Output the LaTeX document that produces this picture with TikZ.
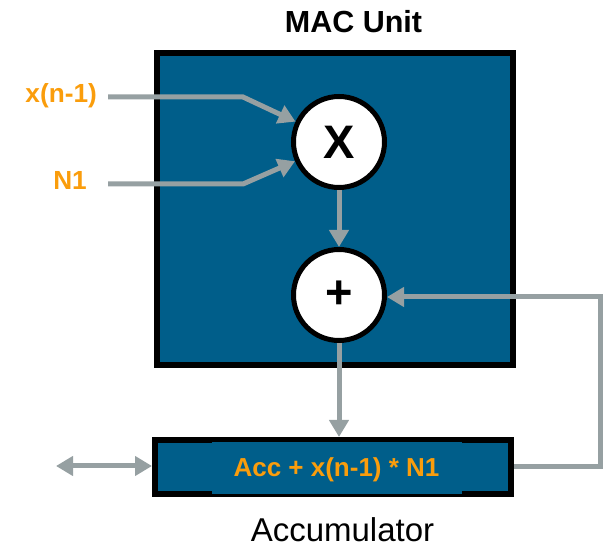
\documentclass[tikz,border=0pt]{standalone}
\usepackage{fontspec}
\setmainfont{Liberation Sans}
\usetikzlibrary{arrows.meta}
\definecolor{macblue}{RGB}{0,94,138}
\definecolor{accorange}{RGB}{250,157,12}
\definecolor{wiregray}{RGB}{150,160,162}
\tikzset{
  unitbox/.style={draw=black, line width=6pt, fill=macblue},
  opcircle/.style={circle, draw=black, line width=5pt, fill=white, minimum size=91pt, inner sep=0pt, font=\bfseries\fontsize{47}{47}\selectfont},
  wire/.style={draw=wiregray, line width=5pt, -{Triangle[length=17pt,width=19pt]}},
  plainwire/.style={draw=wiregray, line width=5pt},
  inlabel/.style={text=accorange, font=\bfseries\fontsize{26.2}{26.2}\selectfont, inner sep=0pt},
}
\begin{document}
\begin{tikzpicture}[x=1pt,y=-1pt]
\useasboundingbox (0,0) rectangle (606,548);
% MAC unit box
\draw[unitbox] (157,53) rectangle (513,365);
\node[font=\bfseries\fontsize{30.5}{30.5}\selectfont, anchor=base, inner sep=0pt] (title) at (353.5,33) {MAC Unit};
% accumulator box
\draw[unitbox] (155,440) rectangle (511,494);
\node[fill=macblue, minimum width=250pt, minimum height=52pt, inner sep=0pt] (accbg) at (337,468) {};
\node[inlabel, font=\bfseries\fontsize{26}{26}\selectfont, anchor=base] (acctext) at (336.5,477) {Acc + x(n-1) * N1};
\node[font=\fontsize{33}{33}\selectfont, anchor=base, inner sep=0pt] (acclabel) at (342.5,541) {Accumulator};
% operators
\node[opcircle] (mul) at (339,142) {X};
\node[opcircle] (add) at (339,295) {+};
% inputs
\node[inlabel, anchor=base east] (xin) at (97,103) {x(n-1)};
\node[inlabel, anchor=base east] (nin) at (87,190) {N1};
\coordinate (xstart) at (108,97);
\coordinate (xbend) at (243,97);
\coordinate (nstart) at (108,184);
\coordinate (nbend) at (243,184);
\draw[wire] (xstart) -- (xbend) -- (mul);
\draw[wire] (nstart) -- (nbend) -- (mul);
% internal
\coordinate (accin) at (339,437);
\draw[wire] (mul.south) -- (add.north);
\draw[wire] (add.south) -- (accin);
% feedback
\coordinate (accout) at (514,467);
\coordinate (fbcorner1) at (600,467);
\coordinate (fbcorner2) at (600,297);
\draw[wire] (accout) -- (fbcorner1) -- (fbcorner2) -- (add.east |- fbcorner2);
% bidirectional
\coordinate (bileft) at (56,466);
\coordinate (biright) at (152,466);
\draw[plainwire, {Triangle[length=17pt,width=19pt]}-{Triangle[length=17pt,width=19pt]}] (bileft) -- (biright);
\end{tikzpicture}
\end{document}
